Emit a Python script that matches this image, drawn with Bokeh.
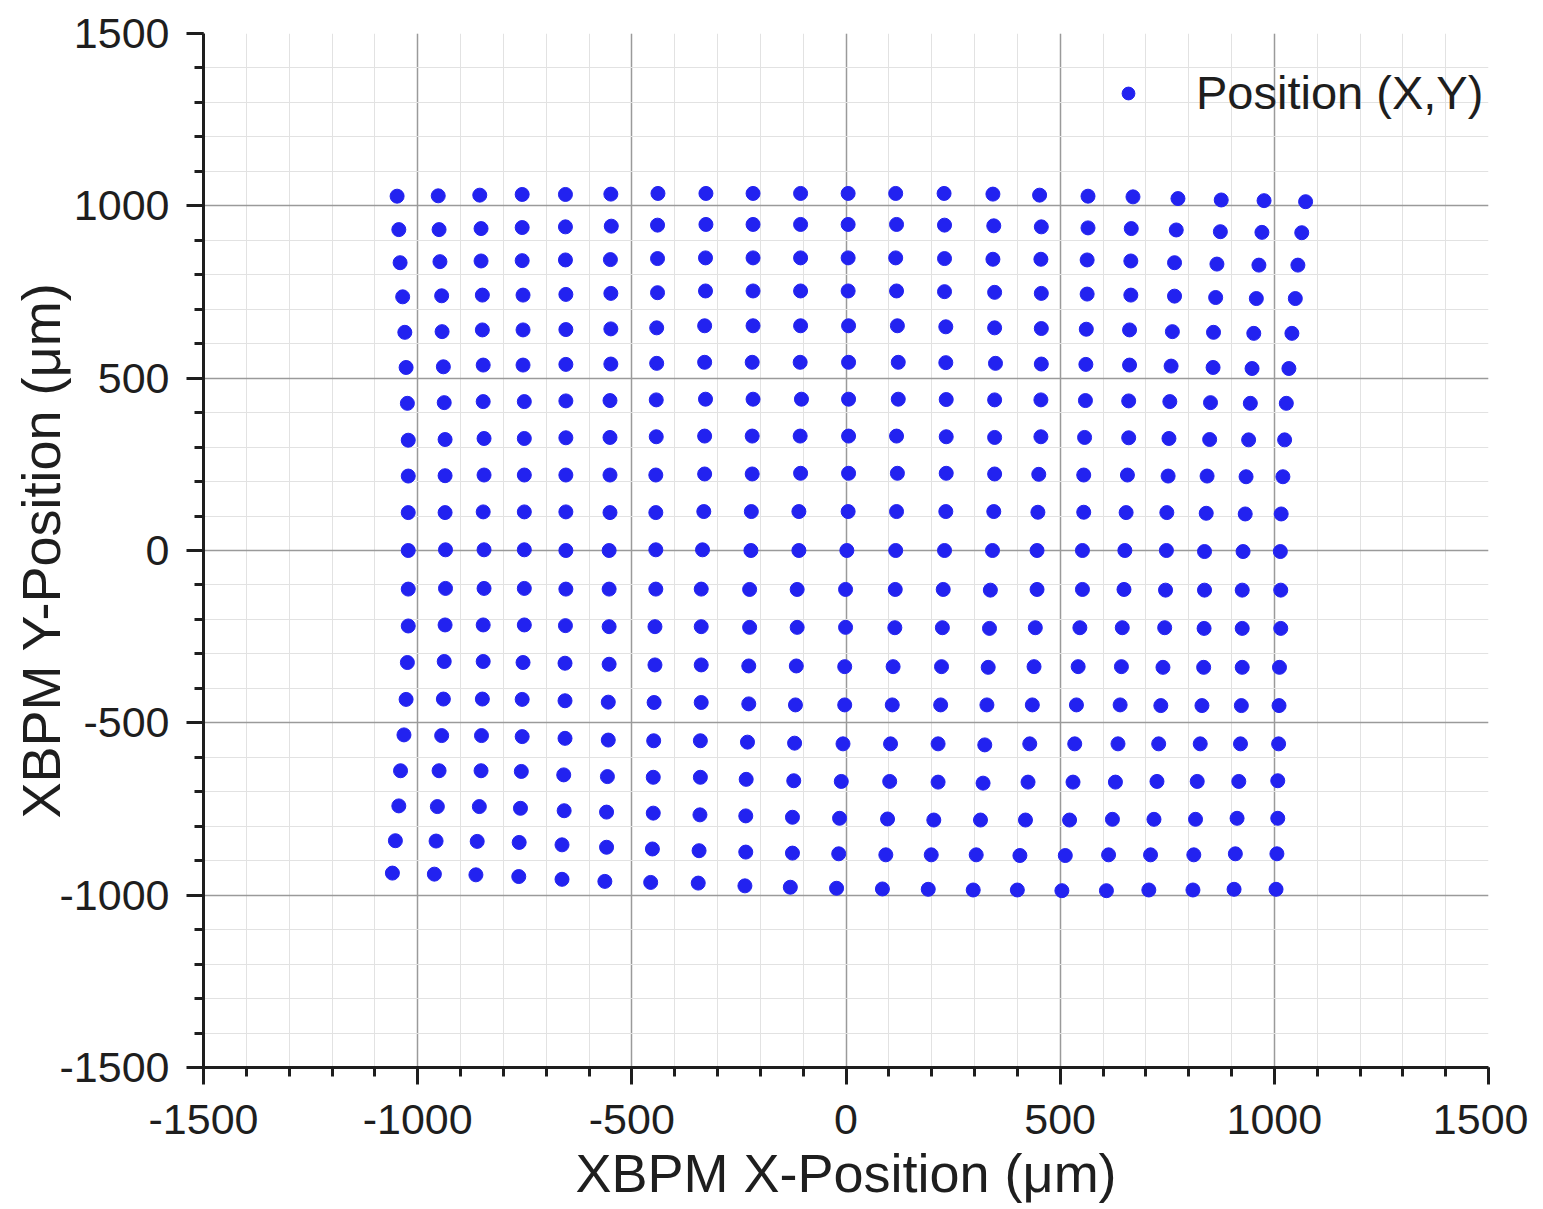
from bokeh.plotting import figure
from bokeh.models import SingleIntervalTicker, Range1d, CustomJSTickFormatter
from bokeh.embed import file_html
from bokeh.resources import INLINE

# ---- data (µm), one list per scan row ----
x_r01 = [-1048, -952, -855, -756, -655, -549, -439, -327, -217, -106, 5, 116, 229, 343, 452, 565, 670, 775, 876, 976, 1073]
y_r01 = [1028, 1029, 1031, 1033, 1033, 1034, 1036, 1036, 1036, 1036, 1036, 1036, 1036, 1034, 1031, 1028, 1026, 1021, 1017, 1015, 1012]
x_r02 = [-1044, -950, -852, -756, -655, -548, -440, -327, -217, -106, 5, 118, 230, 345, 456, 565, 666, 771, 874, 971, 1064]
y_r02 = [931, 931, 934, 937, 939, 941, 944, 946, 946, 946, 946, 946, 944, 942, 939, 936, 934, 930, 925, 923, 922]
x_r03 = [-1041, -948, -852, -756, -655, -550, -440, -328, -217, -106, 5, 116, 230, 343, 455, 563, 665, 767, 866, 964, 1055]
y_r03 = [835, 838, 840, 841, 843, 844, 847, 849, 849, 849, 849, 849, 847, 845, 845, 843, 840, 835, 831, 828, 828]
x_r04 = [-1035, -944, -849, -754, -654, -549, -440, -328, -217, -106, 5, 118, 230, 347, 456, 563, 665, 767, 863, 958, 1049]
y_r04 = [736, 739, 741, 741, 743, 746, 748, 753, 753, 753, 753, 753, 751, 749, 746, 744, 741, 738, 734, 731, 731]
x_r05 = [-1030, -943, -849, -754, -654, -549, -442, -330, -217, -106, 6, 120, 233, 347, 456, 561, 662, 762, 858, 952, 1041]
y_r05 = [633, 635, 640, 640, 641, 643, 646, 652, 652, 652, 652, 652, 649, 646, 644, 642, 640, 635, 633, 630, 630]
x_r06 = [-1027, -940, -847, -754, -654, -549, -442, -330, -219, -107, 6, 122, 233, 349, 456, 560, 662, 759, 857, 948, 1034]
y_r06 = [531, 533, 538, 538, 540, 541, 543, 546, 546, 546, 546, 546, 545, 543, 541, 540, 538, 535, 531, 528, 528]
x_r07 = [-1024, -938, -847, -751, -654, -551, -443, -328, -217, -104, 6, 122, 234, 347, 455, 559, 660, 756, 851, 944, 1028]
y_r07 = [427, 429, 432, 432, 434, 435, 437, 439, 439, 439, 439, 439, 438, 437, 437, 435, 434, 432, 429, 427, 427]
x_r08 = [-1022, -936, -845, -751, -654, -551, -443, -330, -219, -107, 6, 118, 234, 347, 455, 557, 660, 754, 849, 940, 1024]
y_r08 = [320, 322, 325, 325, 327, 328, 330, 332, 332, 332, 332, 332, 330, 328, 330, 328, 327, 325, 322, 321, 321]
x_r09 = [-1022, -936, -845, -751, -654, -551, -444, -330, -219, -106, 6, 120, 234, 347, 450, 555, 657, 752, 843, 934, 1020]
y_r09 = [216, 217, 219, 219, 219, 219, 219, 222, 222, 224, 224, 224, 224, 222, 221, 219, 219, 216, 216, 214, 214]
x_r10 = [-1022, -936, -847, -751, -654, -551, -444, -332, -221, -110, 5, 118, 233, 345, 448, 555, 654, 749, 841, 932, 1016]
y_r10 = [110, 110, 112, 112, 112, 110, 110, 113, 113, 113, 113, 113, 113, 113, 111, 111, 110, 110, 108, 106, 106]
x_r11 = [-1022, -935, -845, -751, -654, -553, -444, -335, -222, -110, 2, 116, 230, 342, 446, 552, 651, 748, 837, 927, 1014]
y_r11 = [0, 2, 2, 2, 0, 0, 2, 2, 0, 0, 0, 0, 0, 0, 0, 0, 0, 0, -3, -3, -3]
x_r12 = [-1022, -935, -845, -751, -654, -553, -444, -338, -225, -114, -1, 115, 227, 337, 446, 552, 649, 746, 837, 925, 1015]
y_r12 = [-112, -110, -110, -110, -112, -112, -112, -112, -113, -113, -113, -113, -113, -115, -113, -113, -113, -115, -115, -115, -115]
x_r13 = [-1022, -936, -847, -751, -655, -553, -446, -338, -225, -114, -1, 114, 225, 335, 442, 546, 645, 744, 836, 925, 1015]
y_r13 = [-219, -216, -216, -216, -218, -221, -221, -221, -223, -223, -223, -224, -224, -226, -224, -224, -224, -224, -226, -226, -226]
x_r14 = [-1024, -938, -847, -754, -656, -553, -446, -338, -227, -116, -3, 110, 223, 332, 439, 542, 643, 740, 835, 925, 1012]
y_r14 = [-325, -322, -322, -325, -327, -330, -332, -332, -335, -335, -337, -337, -337, -339, -337, -337, -337, -339, -339, -339, -339]
x_r15 = [-1027, -940, -849, -756, -656, -555, -448, -338, -227, -118, -3, 108, 221, 329, 435, 538, 640, 735, 831, 923, 1011]
y_r15 = [-432, -431, -431, -432, -436, -440, -441, -441, -445, -448, -448, -448, -448, -448, -448, -448, -448, -450, -450, -450, -450]
x_r16 = [-1032, -944, -851, -756, -656, -555, -449, -340, -230, -120, -7, 104, 215, 324, 429, 534, 635, 730, 827, 921, 1010]
y_r16 = [-535, -537, -537, -540, -545, -550, -552, -552, -556, -559, -561, -561, -561, -564, -561, -561, -561, -561, -561, -561, -561]
x_r17 = [-1040, -950, -852, -758, -659, -557, -450, -340, -233, -122, -11, 102, 215, 320, 425, 530, 629, 726, 820, 917, 1008]
y_r17 = [-639, -639, -639, -641, -651, -656, -658, -658, -664, -668, -670, -670, -672, -675, -672, -672, -672, -670, -670, -670, -668]
x_r18 = [-1044, -954, -856, -760, -658, -559, -450, -341, -234, -125, -15, 97, 205, 314, 419, 522, 622, 719, 816, 913, 1008]
y_r18 = [-741, -743, -743, -748, -755, -759, -762, -767, -770, -774, -777, -779, -782, -782, -782, -782, -780, -780, -780, -777, -777]
x_r19 = [-1052, -957, -861, -763, -663, -559, -452, -343, -234, -125, -17, 93, 199, 304, 406, 512, 613, 711, 812, 909, 1006]
y_r19 = [-842, -843, -844, -847, -854, -861, -866, -871, -875, -878, -880, -883, -883, -883, -885, -885, -883, -883, -883, -880, -880]
x_r20 = [-1059, -961, -864, -764, -663, -563, -456, -345, -236, -130, -22, 85, 192, 297, 400, 504, 608, 707, 810, 906, 1004]
y_r20 = [-936, -939, -941, -946, -954, -960, -963, -965, -973, -977, -980, -982, -983, -985, -985, -987, -987, -985, -985, -983, -983]

x_rows = [x_r01, x_r02, x_r03, x_r04, x_r05, x_r06, x_r07, x_r08, x_r09, x_r10,
          x_r11, x_r12, x_r13, x_r14, x_r15, x_r16, x_r17, x_r18, x_r19, x_r20]
y_rows = [y_r01, y_r02, y_r03, y_r04, y_r05, y_r06, y_r07, y_r08, y_r09, y_r10,
          y_r11, y_r12, y_r13, y_r14, y_r15, y_r16, y_r17, y_r18, y_r19, y_r20]

x_title = "XBPM X-Position (μm)"
y_title = "XBPM Y-Position (μm)"
series_name = "Position (X,Y)"

xs = [v for row in x_rows for v in row]
ys = [v for row in y_rows for v in row]

FONT = "Liberation Sans"
TXT = "#1e1e1e"

p = figure(frame_width=1285, frame_height=1034,
           x_range=Range1d(-1500, 1500), y_range=Range1d(-1500, 1500),
           output_backend="svg", toolbar_location=None,
           min_border_left=203, min_border_right=40,
           min_border_top=33, min_border_bottom=134)
p.outline_line_color = None
p.background_fill_color = "white"

p.scatter(xs, ys, size=14, fill_color="#2222f0", line_color="#2222f0",
          legend_label=series_name)

fmt_code = "return String(Math.round(tick));"
for ax in (p.xaxis[0], p.yaxis[0]):
    ax.ticker = SingleIntervalTicker(interval=500, num_minor_ticks=5)
    ax.formatter = CustomJSTickFormatter(code=fmt_code)
    ax.axis_line_width = 3
    ax.axis_line_color = TXT
    ax.major_tick_line_width = 3
    ax.minor_tick_line_width = 3
    ax.major_tick_line_color = TXT
    ax.minor_tick_line_color = TXT
    ax.major_tick_in = 0
    ax.major_tick_out = 17
    ax.minor_tick_in = 0
    ax.minor_tick_out = 9
    ax.major_label_text_font = FONT
    ax.major_label_text_font_size = "43px"
    ax.major_label_text_color = TXT
    ax.axis_label_text_font = FONT
    ax.axis_label_text_font_size = "54px"
    ax.axis_label_text_font_style = "normal"
    ax.axis_label_text_color = TXT

p.xaxis.axis_label = x_title
p.yaxis.axis_label = y_title
p.xaxis.major_label_standoff = 20
p.yaxis.major_label_standoff = 17
p.xaxis.axis_label_standoff = 6
p.yaxis.axis_label_standoff = -14

for g in (p.xgrid[0], p.ygrid[0]):
    g.grid_line_color = "#9a9a9a"
    g.grid_line_width = 1.5
    g.minor_grid_line_color = "#e2e2e2"
    g.minor_grid_line_width = 1

leg = p.legend[0]
leg.location = (909, 947)
leg.padding = 0
leg.margin = 0
leg.border_line_color = None
leg.background_fill_alpha = 0
leg.glyph_width = 32
leg.glyph_height = 50
leg.label_height = 50
leg.label_standoff = 52
leg.label_text_font = FONT
leg.label_text_font_size = "47px"
leg.label_text_color = TXT

open("out.html", "w").write(file_html(p, INLINE))
